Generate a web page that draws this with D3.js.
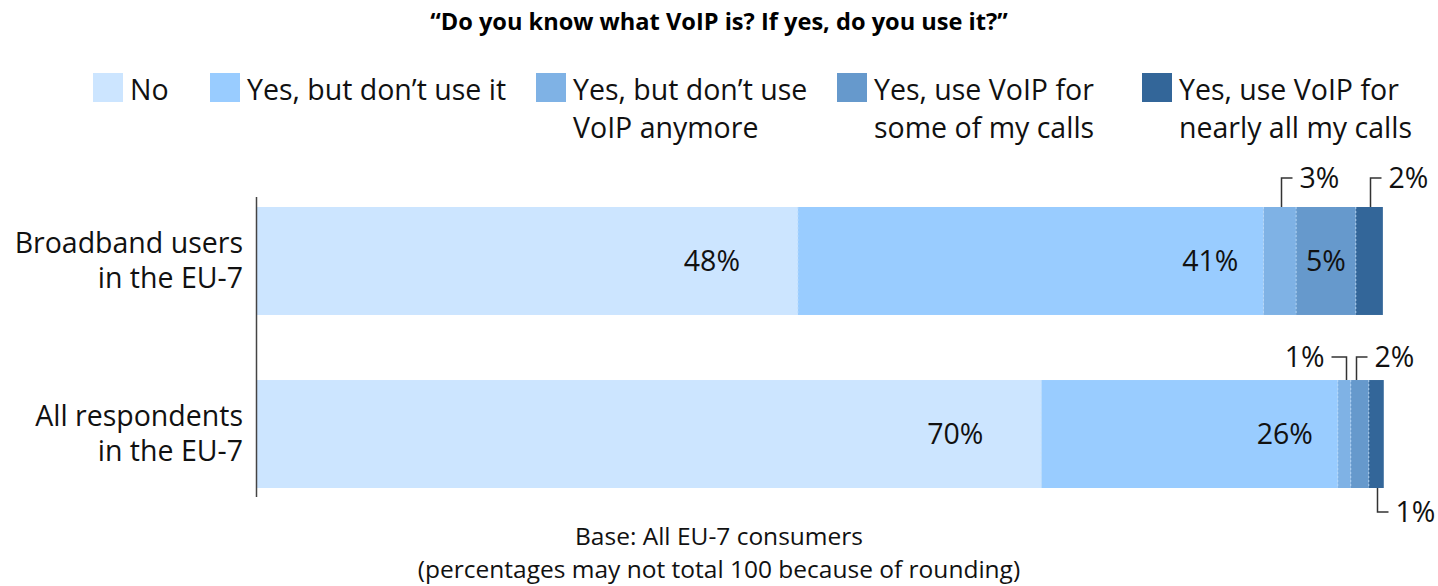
<!DOCTYPE html>
<html>
<head>
<meta charset="utf-8">
<script src="https://cdn.jsdelivr.net/npm/d3@7"></script>
<style>
  body { margin: 0; background: #fff; }
  svg { display: block; font-family: "Open Sans", sans-serif; }
</style>
</head>
<body>
<svg width="1438" height="586"></svg>
<script>
// chart data
var categories = [["Broadband users", "in the EU-7"], ["All respondents", "in the EU-7"]];
var seriesNames = [
  ["No"],
  ["Yes, but don\u2019t use it"],
  ["Yes, but don\u2019t use", "VoIP anymore"],
  ["Yes, use VoIP for", "some of my calls"],
  ["Yes, use VoIP for", "nearly all my calls"]
];
var broadband = [48.0, 41.3, 2.9, 5.3, 2.4];
var allRespondents = [69.6, 26.3, 1.15, 1.6, 1.33];
var colors = ["#cce5ff", "#99ccff", "#7fb2e5", "#6699cc", "#336699"];

// small segments get a callout instead of an inside label
var callouts = [
  {bar: 0, series: 2, side: "top", dir: "right"},
  {bar: 0, series: 4, side: "top", dir: "right"},
  {bar: 1, series: 2, side: "top", dir: "left"},
  {bar: 1, series: 3, side: "top", dir: "right"},
  {bar: 1, series: 4, side: "bottom", dir: "right"}
];
var legendX = [93, 210, 536, 837, 1142];
var labelInset = [58, 25, 0, 0, 0];

var title = "\u201cDo you know what VoIP is? If yes, do you use it?\u201d";
var notes = ["Base: All EU-7 consumers", "(percentages may not total 100 because of rounding)"];

var svg = d3.select("svg");
var fs = 28.5;

var rows = [broadband, allRespondents].map(function(vals, i) {
  var acc = 0;
  return vals.map(function(v, j) {
    var d = {bar: i, series: j, value: v, x0: acc, x1: acc + v};
    acc += v;
    return d;
  });
});

var x = d3.scaleLinear().domain([0, 100]).range([257, 1384]);
var y = d3.scaleBand().domain(d3.range(categories.length)).range([207, 488]).paddingInner(0.376).paddingOuter(0);

// title
svg.append("text")
   .attr("x", 719).attr("y", 30)
   .attr("text-anchor", "middle")
   .style("font-weight", "bold")
   .style("font-size", "23.6px")
   .style("fill", "#000")
   .text(title);

// legend
var leg = svg.selectAll("g.legend")
   .data(seriesNames)
   .enter().append("g")
   .attr("class", "legend")
   .attr("transform", function(d, i) { return "translate(" + legendX[i] + ",73)"; });

leg.append("rect")
   .attr("width", 30).attr("height", 29)
   .style("fill", function(d, i) { return colors[i]; });

leg.selectAll("text")
   .data(function(d) { return d; })
   .enter().append("text")
   .attr("x", 37)
   .attr("y", function(d, k) { return 27 + k * 38; })
   .style("font-size", fs + "px")
   .style("fill", "#111")
   .text(function(d) { return d; });

// bars
var bars = svg.selectAll("g.bar")
   .data(rows)
   .enter().append("g")
   .attr("class", "bar");

bars.selectAll("rect")
   .data(function(d) { return d; })
   .enter().append("rect")
   .attr("x", function(d) { return x(d.x0); })
   .attr("y", function(d) { return y(d.bar); })
   .attr("width", function(d) { return x(d.x1) - x(d.x0); })
   .attr("height", y.bandwidth())
   .style("fill", function(d) { return colors[d.series]; });

// faint dotted seams between segments
bars.selectAll("line.seam")
   .data(function(d) { return d.slice(1); })
   .enter().append("line")
   .attr("class", "seam")
   .attr("x1", function(d) { return x(d.x0); })
   .attr("x2", function(d) { return x(d.x0); })
   .attr("y1", function(d) { return y(d.bar); })
   .attr("y2", function(d) { return y(d.bar) + y.bandwidth(); })
   .style("stroke", "#bcdcfa")
   .style("stroke-width", 1)
   .style("stroke-dasharray", "2,2")
   .style("opacity", 0.8);

// inside labels
bars.selectAll("text.val")
   .data(function(d) { return d.filter(function(s) { return x(s.x1) - x(s.x0) > 40; }); })
   .enter().append("text")
   .attr("class", "val")
   .attr("x", function(d) {
      var w = x(d.x1) - x(d.x0);
      return w > 100 ? x(d.x1) - labelInset[d.series] : (x(d.x0) + x(d.x1)) / 2;
   })
   .attr("y", function(d) { return y(d.bar) + y.bandwidth() / 2 + 10; })
   .attr("text-anchor", function(d) { return x(d.x1) - x(d.x0) > 100 ? "end" : "middle"; })
   .style("font-size", fs + "px")
   .style("fill", "#111")
   .text(function(d) { return Math.round(d.value) + "%"; });

// callouts
var co = svg.selectAll("g.callout")
   .data(callouts)
   .enter().append("g")
   .attr("class", "callout");

co.each(function(c) {
   var d = rows[c.bar][c.series];
   var cx = Math.round((x(d.x0) + x(d.x1)) / 2) + (c.bar === 1 && c.side === "top" ? (c.dir === "left" ? 2 : -4) : 1) + 0.5;
   var top = c.side === "top";
   var edge = top ? y(d.bar) : y(d.bar) + y.bandwidth();
   var ey = top ? edge - (c.bar === 0 ? 29 : 23) : edge + 24;
   var hx = c.dir === "right" ? cx + 11 : cx - 15;
   var g = d3.select(this);
   g.append("path")
    .attr("d", "M" + cx + "," + edge + "V" + ey + "H" + hx)
    .style("fill", "none")
    .style("stroke", "#333")
    .style("stroke-width", 1.5);
   g.append("text")
    .attr("x", c.dir === "right" ? hx + 7 : hx - 7)
    .attr("y", ey + 10)
    .attr("text-anchor", c.dir === "right" ? "start" : "end")
    .style("font-size", fs + "px")
    .style("fill", "#111")
    .text(Math.round(d.value) + "%");
});

// category axis
svg.append("line")
   .attr("x1", 256.5).attr("x2", 256.5)
   .attr("y1", 197).attr("y2", 497)
   .style("stroke", "#444")
   .style("stroke-width", 1.5);

svg.selectAll("g.cat")
   .data(categories)
   .enter().append("g")
   .attr("class", "cat")
   .selectAll("text")
   .data(function(d, i) { return d.map(function(t, k) { return {t: t, k: k, i: i}; }); })
   .enter().append("text")
   .attr("x", 243)
   .attr("y", function(d) { return y(d.i) + y.bandwidth() / 2 - 8 + d.k * 35; })
   .attr("text-anchor", "end")
   .style("font-size", fs + "px")
   .style("fill", "#111")
   .text(function(d) { return d.t; });

// footnote
svg.selectAll("text.note")
   .data(notes)
   .enter().append("text")
   .attr("class", "note")
   .attr("x", 719)
   .attr("y", function(d, i) { return 545 + i * 33; })
   .attr("text-anchor", "middle")
   .style("font-size", "24.5px")
   .style("fill", "#111")
   .text(function(d) { return d; });
</script>
</body>
</html>
